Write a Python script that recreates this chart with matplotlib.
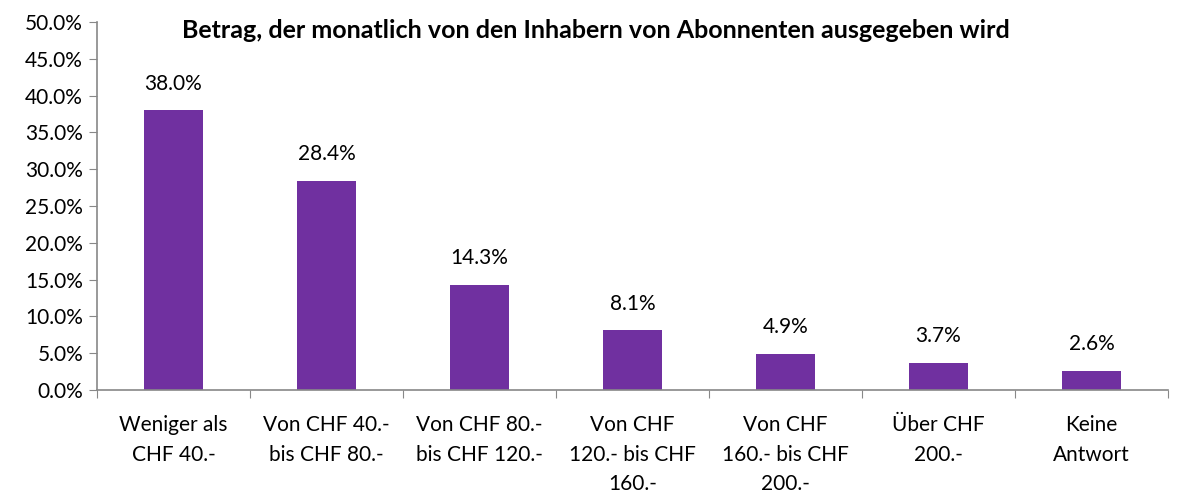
import matplotlib.pyplot as plt
from matplotlib.ticker import FuncFormatter

categories = ["Weniger als\nCHF 40.-", "Von CHF 40.-\nbis CHF 80.-",
              "Von CHF 80.-\nbis CHF 120.-", "Von CHF\n120.- bis CHF\n160.-",
              "Von CHF\n160.- bis CHF\n200.-", "Über CHF\n200.-", "Keine\nAntwort"]
values = [38.0, 28.4, 14.3, 8.1, 4.9, 3.7, 2.6]
title = "Betrag, der monatlich von den Inhabern von Abonnenten ausgegeben wird"

plt.rcParams['font.family'] = ['Lato', 'DejaVu Sans']

fig = plt.figure(figsize=(11.78, 4.99), dpi=100)
ax = fig.add_axes([97/1178, 1 - 390/499, (1168-97)/1178, (390-22)/499])

x = list(range(len(values)))
ax.bar(x, values, width=0.39, color='#7030A0')
for xi, v in zip(x, values):
    ax.annotate(f"{v:.1f}%", (xi, v), xytext=(0, 12), textcoords='offset points',
                ha='center', va='bottom', fontsize=15)

ax.set_xlim(-0.5, len(values) - 0.5)
ax.set_ylim(0, 50)
ax.set_yticks(range(0, 51, 5))
ax.yaxis.set_major_formatter(FuncFormatter(lambda v, p: f"{v:.1f}%"))
ax.set_xticks([i - 0.5 for i in range(len(values) + 1)], minor=False)
ax.set_xticklabels([])
ax.set_xticks(x, minor=True)
ax.set_xticklabels(categories, minor=True, fontsize=15, linespacing=1.6)
ax.tick_params(axis='x', which='minor', length=0, pad=18)
ax.tick_params(axis='x', which='major', length=6, color='#888888')
ax.tick_params(axis='y', length=6, color='#888888', labelsize=15, pad=4)

for s in ['top', 'right']:
    ax.spines[s].set_visible(False)
for s in ['left', 'bottom']:
    ax.spines[s].set_color('#888888')
    ax.spines[s].set_linewidth(1.2)

fig.text(596/1178, 1 - 30/499, title, ha='center', va='center',
         fontsize=18, fontweight='bold')

fig.savefig("out.png", dpi=100)
